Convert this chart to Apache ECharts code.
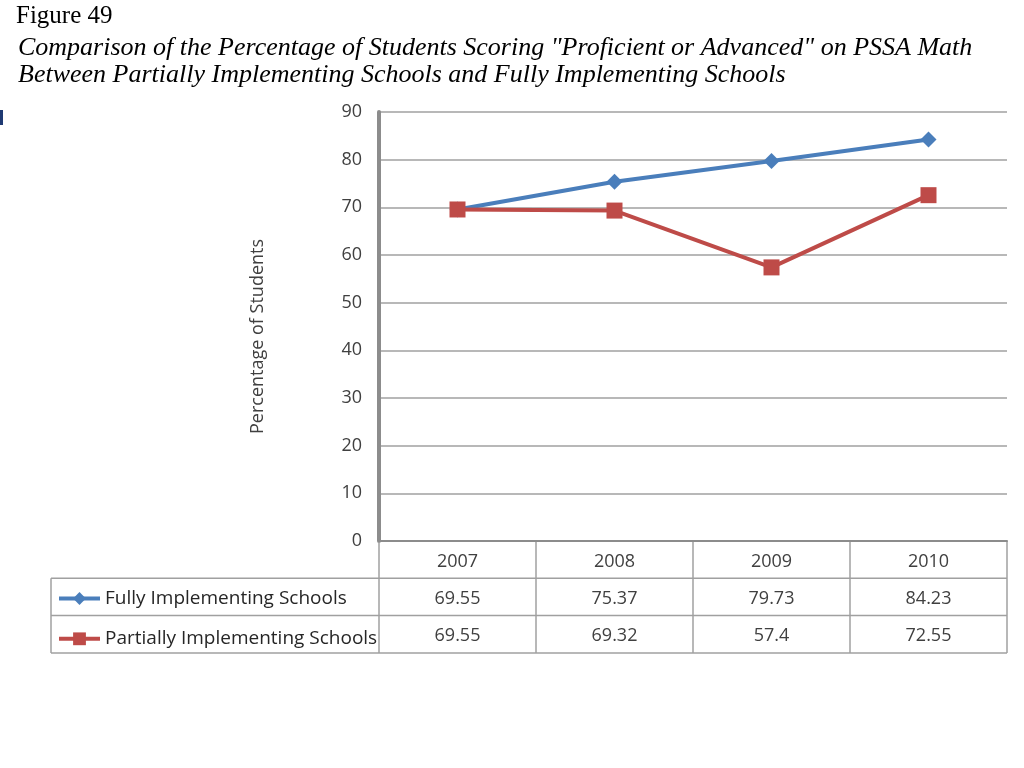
<!DOCTYPE html>
<html>
<head>
<meta charset="utf-8">
<script src="https://cdn.jsdelivr.net/npm/echarts@6/dist/echarts.min.js"></script>
<style>
html,body{margin:0;padding:0;background:#fff;}
#chart{width:1024px;height:768px;}
</style>
</head>
<body>
<div id="chart"></div>
<script>
const figureLabel = 'Figure 49';
const titleLines = [
  'Comparison of the Percentage of Students Scoring "Proficient or Advanced" on PSSA Math',
  'Between Partially Implementing Schools and Fully Implementing Schools'
];
const yAxisTitle = 'Percentage of Students';
const years = ['2007', '2008', '2009', '2010'];
const fullyName = 'Fully Implementing Schools';
const partiallyName = 'Partially Implementing Schools';
const fullyValues = [69.55, 75.37, 79.73, 84.23];
const partiallyValues = [69.55, 69.32, 57.4, 72.55];
const yTicks = [0, 10, 20, 30, 40, 50, 60, 70, 80, 90];

const blue = '#4A7EBB';
const red = '#BE4B48';
const gridColor = '#A0A0A0';
const textColor = '#404040';
const uiFont = 'Open Sans';
const uiSize = 18;

const chart = echarts.init(document.getElementById('chart'), null, {renderer: 'canvas'});

const gridLeft = 379, gridRight = 17, gridTop = 112, gridBottom = 227;
const rowH = 37.3;

const option = {
  animation: false,
  backgroundColor: '#fff',
  grid: {left: gridLeft, right: gridRight, top: gridTop, bottom: gridBottom, containLabel: false},
  legend: {
    orient: 'vertical',
    left: 57,
    top: 589,
    padding: 0,
    itemWidth: 41,
    itemHeight: 16,
    itemGap: rowH - 16,
    lineStyle: {width: 4},
    textStyle: {fontFamily: uiFont, fontSize: 19, color: '#262626', lineHeight: 16},
    data: [fullyName, partiallyName]
  },
  xAxis: {
    type: 'category',
    data: years,
    boundaryGap: true,
    axisLine: {lineStyle: {color: '#8C8C8C', width: 2}},
    axisTick: {show: false},
    axisLabel: {fontFamily: uiFont, fontSize: uiSize, color: textColor, margin: 12}
  },
  yAxis: {
    type: 'value',
    min: yTicks[0],
    max: yTicks[yTicks.length - 1],
    interval: 10,
    name: yAxisTitle,
    nameLocation: 'middle',
    nameGap: 112,
    nameTextStyle: {fontFamily: uiFont, fontSize: uiSize, color: textColor, padding: [0, 20, 0, 0]},
    axisLine: {show: true, lineStyle: {color: '#8C8C8C', width: 4}},
    axisTick: {show: false},
    axisLabel: {fontFamily: uiFont, fontSize: uiSize, color: textColor, margin: 17},
    splitLine: {lineStyle: {color: gridColor, width: 1.5}}
  },
  series: [
    {
      name: fullyName,
      type: 'line',
      data: fullyValues,
      symbol: 'diamond',
      symbolSize: 16,
      lineStyle: {color: blue, width: 4},
      itemStyle: {color: blue},
      z: 3
    },
    {
      name: partiallyName,
      type: 'line',
      data: partiallyValues,
      symbol: 'rect',
      symbolSize: 16,
      lineStyle: {color: red, width: 4},
      itemStyle: {color: red},
      z: 4
    }
  ]
};

chart.setOption(option);

// Data table below the plot, built from the arrays; columns follow the category axis
const axisY = chart.convertToPixel({yAxisIndex: 0}, 0);
const colCenters = years.map(y => chart.convertToPixel({xAxisIndex: 0}, y));
const colW = colCenters.length > 1 ? colCenters[1] - colCenters[0] : 157;
const tableLeft = 51;
const colEdges = [colCenters[0] - colW / 2].concat(colCenters.map(c => c + colW / 2));
const tableRight = colEdges[colEdges.length - 1];
const lineStyle = {stroke: '#A0A0A0', lineWidth: 1.5};
const els = [];

[1, 2, 3].forEach(r => {
  els.push({type: 'line', shape: {x1: tableLeft, y1: axisY + r * rowH, x2: tableRight, y2: axisY + r * rowH}, style: lineStyle});
});
colEdges.forEach((x, i) => {
  els.push({type: 'line', shape: {x1: x, y1: i === 0 ? axisY + 2 : axisY, x2: x, y2: axisY + 3 * rowH}, style: lineStyle});
});
els.push({type: 'line', shape: {x1: tableLeft, y1: axisY + rowH, x2: tableLeft, y2: axisY + 3 * rowH}, style: lineStyle});

[fullyValues, partiallyValues].forEach((vals, r) => {
  vals.forEach((v, i) => {
    els.push({
      type: 'text',
      x: colCenters[i],
      y: axisY + (r + 1.5) * rowH + 2,
      style: {text: String(v), fontFamily: uiFont, fontSize: uiSize, fill: textColor, align: 'center', verticalAlign: 'middle'}
    });
  });
});

// Titles
els.push({type: 'text', x: 16, y: 4, style: {text: figureLabel, fontFamily: 'Liberation Serif', fontSize: 25, fill: '#000', align: 'left', verticalAlign: 'top'}});
titleLines.forEach((t, i) => {
  els.push({type: 'text', x: 18, y: 35 + i * 27, style: {text: t, fontFamily: 'Liberation Serif', fontStyle: 'italic', fontSize: 26, fill: '#000', align: 'left', verticalAlign: 'top'}});
});
els.push({type: 'rect', shape: {x: 0, y: 110, width: 3, height: 15}, style: {fill: '#1F3A73'}});

chart.setOption({graphic: {elements: els}});
</script>
</body>
</html>
